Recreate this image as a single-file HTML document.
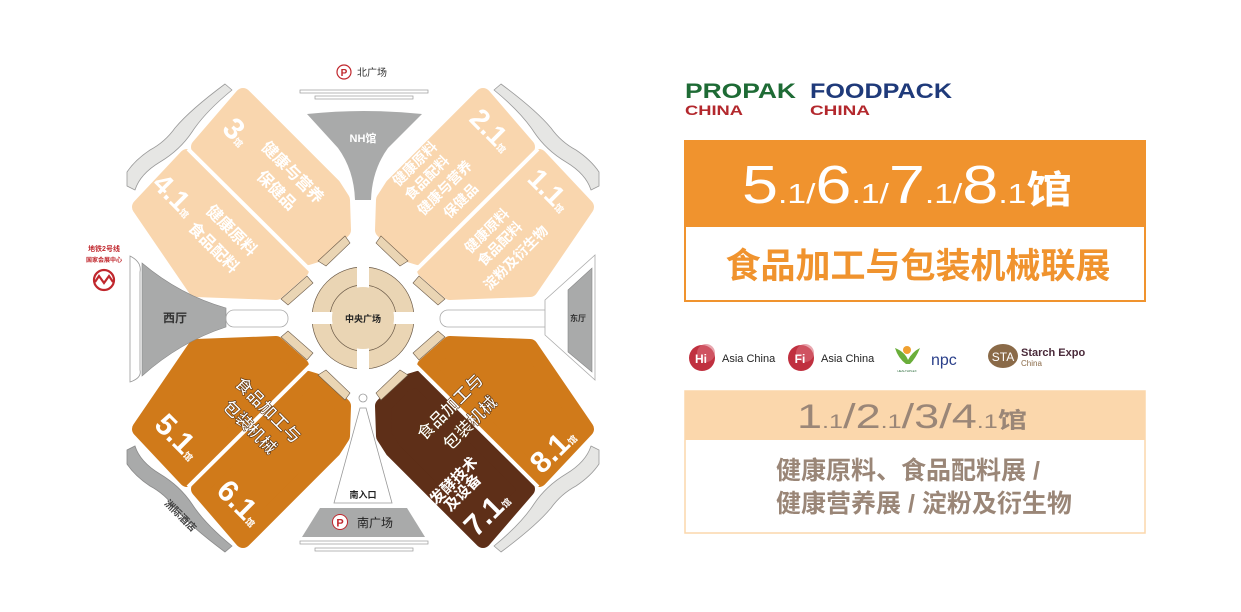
<!DOCTYPE html>
<html><head><meta charset="utf-8"><style>
html,body{margin:0;padding:0;background:#fff;}
body{width:1241px;height:612px;overflow:hidden;position:relative;font-family:"Liberation Sans","Noto Sans CJK SC",sans-serif;}
svg text{font-family:"Liberation Sans","Noto Sans CJK SC",sans-serif;}
</style></head><body>
<svg width="1241" height="612" viewBox="0 0 1241 612" xmlns="http://www.w3.org/2000/svg" style="position:absolute;left:0;top:0">
<defs>
  <path id="h3" d="M243,96 L199,147 L308,257 L321,253 L343,230 L342,200 L333,186 Z"/>
  <path id="h4" d="M187,157 L140,207 L196,289 L276,292 L301,270 Z"/>
  <path id="gb" d="M127,186 L127,172 Q135,160 150,150 Q165,142 175,128 Q190,110 225,84 L232,90 Q205,112 192,132 Q180,150 160,162 Q140,174 135,190 Z"/>
  <g id="conn">
    <path d="M318,261 L345,236 L350,243 L326,266 Z"/>
    <path d="M281,299 L307,276 L313,283 L288,305 Z"/>
  </g>
</defs>

<g fill="#e6e6e4" stroke="#9a9a9a" stroke-width="0.8" stroke-linejoin="round">
  <use href="#gb"/>
  <use href="#gb" transform="translate(726,0) scale(-1,1)"/>
  <use href="#gb" transform="translate(726,636) scale(-1,-1)"/>
</g>
<g fill="#a9aaaa" stroke="#8a8a8a" stroke-width="0.8"><use href="#gb" transform="translate(0,636) scale(1,-1)"/></g>
<text x="178" y="518" font-size="10" font-weight="bold" fill="#444" transform="rotate(45 178 518)" text-anchor="middle">洲际酒店</text>

<g stroke-width="16" stroke-linejoin="round">
  <use href="#h3" fill="#f9d6ae" stroke="#f9d6ae"/>
  <use href="#h4" fill="#f9d6ae" stroke="#f9d6ae"/>
  <use href="#h3" fill="#f9d6ae" stroke="#f9d6ae" transform="translate(726,0) scale(-1,1)"/>
  <use href="#h4" fill="#f9d6ae" stroke="#f9d6ae" transform="translate(726,0) scale(-1,1)"/>
  <use href="#h3" fill="#d07a1a" stroke="#d07a1a" transform="translate(0,636) scale(1,-1)"/>
  <use href="#h4" fill="#d07a1a" stroke="#d07a1a" transform="translate(0,636) scale(1,-1)"/>
  <use href="#h3" fill="#5e2f18" stroke="#5e2f18" transform="translate(726,636) scale(-1,-1)"/>
  <use href="#h4" fill="#d07a1a" stroke="#d07a1a" transform="translate(726,636) scale(-1,-1)"/>
</g>
<g stroke="#fff" stroke-width="4">
  <line x1="188" y1="149" x2="312" y2="272"/>
  <line x1="538" y1="149" x2="414" y2="272"/>
  <line x1="188" y1="487" x2="312" y2="364"/>
  <line x1="538" y1="487" x2="414" y2="364"/>
</g>

<g fill="#ead5b4" stroke="#6b5a48" stroke-width="0.6">
  <use href="#conn"/>
  <use href="#conn" transform="translate(726,0) scale(-1,1)"/>
  <use href="#conn" transform="translate(0,636) scale(1,-1)"/>
  <use href="#conn" transform="translate(726,636) scale(-1,-1)"/>
</g>

<path d="M307,114 Q363,108 422,114 L388,148 Q372,170 371,200 L355,200 Q354,170 338,148 Z" fill="#a9aaaa"/>
<text x="363" y="142" font-size="11" font-weight="bold" fill="#fff" text-anchor="middle">NH馆</text>
<rect x="300" y="90" width="128" height="3" fill="#fff" stroke="#999" stroke-width="0.7"/>
<rect x="315" y="96" width="98" height="3" fill="#fff" stroke="#999" stroke-width="0.7"/>
<circle cx="344" cy="72" r="7" fill="#fff" stroke="#c0272d" stroke-width="1.2"/>
<text x="344" y="76" font-size="10" font-weight="bold" fill="#c0272d" text-anchor="middle">P</text>
<text x="357" y="76" font-size="10" fill="#333">北广场</text>

<path d="M130,256 Q142,262 140,272 L140,370 Q142,378 130,382 Z" fill="#fff" stroke="#999" stroke-width="0.8"/>
<path d="M142,263 Q180,295 226,308 L226,327 Q180,342 142,376 Z" fill="#a9aaaa" stroke="#888" stroke-width="0.6"/>
<text x="175" y="322" font-size="12" font-weight="bold" fill="#333" text-anchor="middle">西厅</text>
<rect x="226" y="310" width="62" height="17" rx="8" fill="#fff" stroke="#aaa" stroke-width="0.8"/>
<rect x="440" y="310" width="138" height="17" rx="8" fill="#fff" stroke="#aaa" stroke-width="0.8"/>
<path d="M545,300 L595,255 L595,380 L545,335 Z" fill="#fff" stroke="#aaa" stroke-width="0.8"/>
<path d="M568,290 L592,268 L592,372 L568,352 Z" fill="#a9aaaa" stroke="#888" stroke-width="0.6"/>
<text x="578" y="321" font-size="8" font-weight="bold" fill="#333" text-anchor="middle">东厅</text>

<text x="104" y="251" font-size="7" font-weight="bold" fill="#c0272d" text-anchor="middle">地铁2号线</text>
<text x="104" y="262" font-size="6" font-weight="bold" fill="#c0272d" text-anchor="middle">国家会展中心</text>
<circle cx="104" cy="280" r="10" fill="none" stroke="#c0272d" stroke-width="2.2"/>
<path d="M95,282 L99,276 L104,283 L109,276 L113,282" fill="none" stroke="#c0272d" stroke-width="2.2"/>

<circle cx="363" cy="318" r="51" fill="#ead5b4" stroke="#6b5a48" stroke-width="0.7"/>
<circle cx="363" cy="318" r="33" fill="#ead5b4" stroke="#6b5a48" stroke-width="0.7"/>
<rect x="357" y="262" width="12" height="112" fill="#fff"/>
<rect x="307" y="312" width="112" height="12" fill="#fff"/>
<circle cx="363" cy="318" r="31" fill="#ead5b4"/>
<text x="363" y="322" font-size="9" font-weight="bold" fill="#222" text-anchor="middle">中央广场</text>

<circle cx="363" cy="398" r="4" fill="#fff" stroke="#999" stroke-width="0.8"/>
<path d="M360,408 L366,408 L392,503 L334,503 Z" fill="#fff" stroke="#999" stroke-width="0.8"/>
<text x="363" y="498" font-size="9" font-weight="bold" fill="#222" text-anchor="middle">南入口</text>
<path d="M320,508 L407,508 L425,537 L302,537 Z" fill="#a9aaaa"/>
<circle cx="340" cy="522" r="7.5" fill="#fff" stroke="#c0272d" stroke-width="1"/>
<text x="340" y="526.5" font-size="11" font-weight="bold" fill="#c0272d" text-anchor="middle">P</text>
<text x="357" y="527" font-size="12" fill="#222">南广场</text>
<rect x="300" y="541" width="128" height="3" fill="#fff" stroke="#999" stroke-width="0.7"/>
<rect x="315" y="548" width="98" height="3" fill="#fff" stroke="#999" stroke-width="0.7"/>

<g fill="#fff" font-weight="bold" text-anchor="middle">
  <text x="237" y="142" font-size="30" transform="rotate(45 237 132)">3<tspan font-size="9">馆</tspan></text>
  <text x="293" y="178" font-size="16" transform="rotate(45 293 172)">健康与营养</text>
  <text x="277" y="196" font-size="16" transform="rotate(45 277 190)">保健品</text>
  <text x="175" y="205" font-size="28" transform="rotate(45 175 195)">4.1<tspan font-size="9">馆</tspan></text>
  <text x="232" y="236" font-size="16" transform="rotate(45 232 230)">健康原料</text>
  <text x="214" y="253" font-size="16" transform="rotate(45 214 247)">食品配料</text>

  <text x="492" y="140" font-size="28" transform="rotate(45 492 130)">2.1<tspan font-size="9">馆</tspan></text>
  <text x="414" y="169" font-size="14" transform="rotate(-45 414 163)">健康原料</text>
  <text x="426" y="183" font-size="14" transform="rotate(-45 426 177)">食品配料</text>
  <text x="444" y="193" font-size="14" transform="rotate(-45 444 187)">健康与营养</text>
  <text x="460" y="206" font-size="14" transform="rotate(-45 460 200)">保健品</text>
  <text x="550" y="200" font-size="28" transform="rotate(45 550 190)">1.1<tspan font-size="9">馆</tspan></text>
  <text x="486" y="236" font-size="14" transform="rotate(-45 486 230)">健康原料</text>
  <text x="499" y="249" font-size="14" transform="rotate(-45 499 243)">食品配料</text>
  <text x="515" y="263" font-size="14" transform="rotate(-45 515 257)">淀粉及衍生物</text>

  <g stroke="#5a3310" stroke-width="0.6">
  <text x="268" y="416" font-size="17" transform="rotate(45 268 410)">食品加工与</text>
  <text x="250" y="433" font-size="17" transform="rotate(45 250 427)">包装机械</text>
  <text x="450" y="413" font-size="17" transform="rotate(-45 450 407)">食品加工与</text>
  <text x="470" y="429" font-size="17" transform="rotate(-45 470 423)">包装机械</text>
  </g>
  <text x="178" y="447" font-size="30" transform="rotate(45 178 437)">5.1<tspan font-size="9">馆</tspan></text>
  <text x="240" y="513" font-size="30" transform="rotate(45 240 503)">6.1<tspan font-size="9">馆</tspan></text>
  <text x="553" y="460" font-size="30" transform="rotate(-45 553 450)">8.1<tspan font-size="9">馆</tspan></text>
  <text x="453" y="486" font-size="15" transform="rotate(-45 453 480)">发酵技术</text>
  <text x="462" y="498" font-size="15" transform="rotate(-45 462 492)">及设备</text>
  <text x="487" y="523" font-size="30" transform="rotate(-45 487 513)">7.1<tspan font-size="9">馆</tspan></text>
</g>

<text x="685" y="98" font-size="21" font-weight="bold" fill="#1e6b35" textLength="111" lengthAdjust="spacingAndGlyphs">PROPAK</text>
<text x="685" y="115" font-size="14" font-weight="bold" fill="#b3282d" textLength="58" lengthAdjust="spacingAndGlyphs">CHINA</text>
<text x="810" y="98" font-size="21" font-weight="bold" fill="#1f3a7a" textLength="142" lengthAdjust="spacingAndGlyphs">FOODPACK</text>
<text x="810" y="115" font-size="14" font-weight="bold" fill="#b3282d" textLength="60" lengthAdjust="spacingAndGlyphs">CHINA</text>

<rect x="685" y="141" width="460" height="160" fill="#fff" stroke="#f0932e" stroke-width="2"/>
<rect x="685" y="141" width="460" height="86" fill="#f0932e"/>
<text x="742" y="203" font-size="54" fill="#fff" textLength="330" lengthAdjust="spacingAndGlyphs">5<tspan font-size="28">.1/</tspan>6<tspan font-size="28">.1/</tspan>7<tspan font-size="28">.1/</tspan>8<tspan font-size="28">.1</tspan><tspan font-size="38" font-weight="bold">馆</tspan></text>
<text x="918" y="278" font-size="35" font-weight="bold" fill="#f0932e" text-anchor="middle">食品加工与包装机械联展</text>

<circle cx="702" cy="358" r="13" fill="#c0303f"/><circle cx="706" cy="353" r="9" fill="#d96a78" opacity="0.6"/>
<text x="701" y="363" font-size="12" font-weight="bold" fill="#fff" text-anchor="middle">Hi</text>
<text x="722" y="362" font-size="11" fill="#222">Asia China</text>
<circle cx="801" cy="358" r="13" fill="#c0303f"/><circle cx="805" cy="353" r="9" fill="#d96a78" opacity="0.6"/>
<text x="800" y="363" font-size="12" font-weight="bold" fill="#fff" text-anchor="middle">Fi</text>
<text x="821" y="362" font-size="11" fill="#222">Asia China</text>
<path d="M895,348 Q905,352 908,360 Q912,352 920,348 Q916,358 910,364 L906,364 Q898,358 895,348 Z" fill="#6aae3a"/>
<circle cx="907" cy="350" r="4" fill="#f0a030"/>
<text x="907" y="372" font-size="3" fill="#2a6a3a" text-anchor="middle">HEALTHPLEX</text>
<text x="931" y="365" font-size="16" font-family="Liberation Serif" fill="#2a3f8a">npc</text>
<ellipse cx="1003" cy="356" rx="15" ry="12" fill="#8a6a48"/>
<text x="1003" y="361" font-size="12" fill="#fff" text-anchor="middle">STA</text>
<text x="1021" y="356" font-size="11" font-weight="bold" fill="#4a2a3a">Starch Expo</text>
<text x="1021" y="366" font-size="8" fill="#8a6a48">China</text>

<rect x="685" y="391" width="460" height="142" fill="#fff" stroke="#fbd7ac" stroke-width="1.5"/>
<rect x="685" y="391" width="460" height="49" fill="#fbd7ac"/>
<text x="797" y="428" font-size="34" fill="#9a8677" textLength="230" lengthAdjust="spacingAndGlyphs">1<tspan font-size="19">.1</tspan>/2<tspan font-size="19">.1</tspan>/3/4<tspan font-size="19">.1</tspan><tspan font-size="22" font-weight="bold">馆</tspan></text>
<text x="776" y="479" font-size="25" font-weight="bold" fill="#9a8677">健康原料、食品配料展 /</text>
<text x="776" y="512" font-size="25" font-weight="bold" fill="#9a8677">健康营养展 / 淀粉及衍生物</text>
</svg>
</body></html>
